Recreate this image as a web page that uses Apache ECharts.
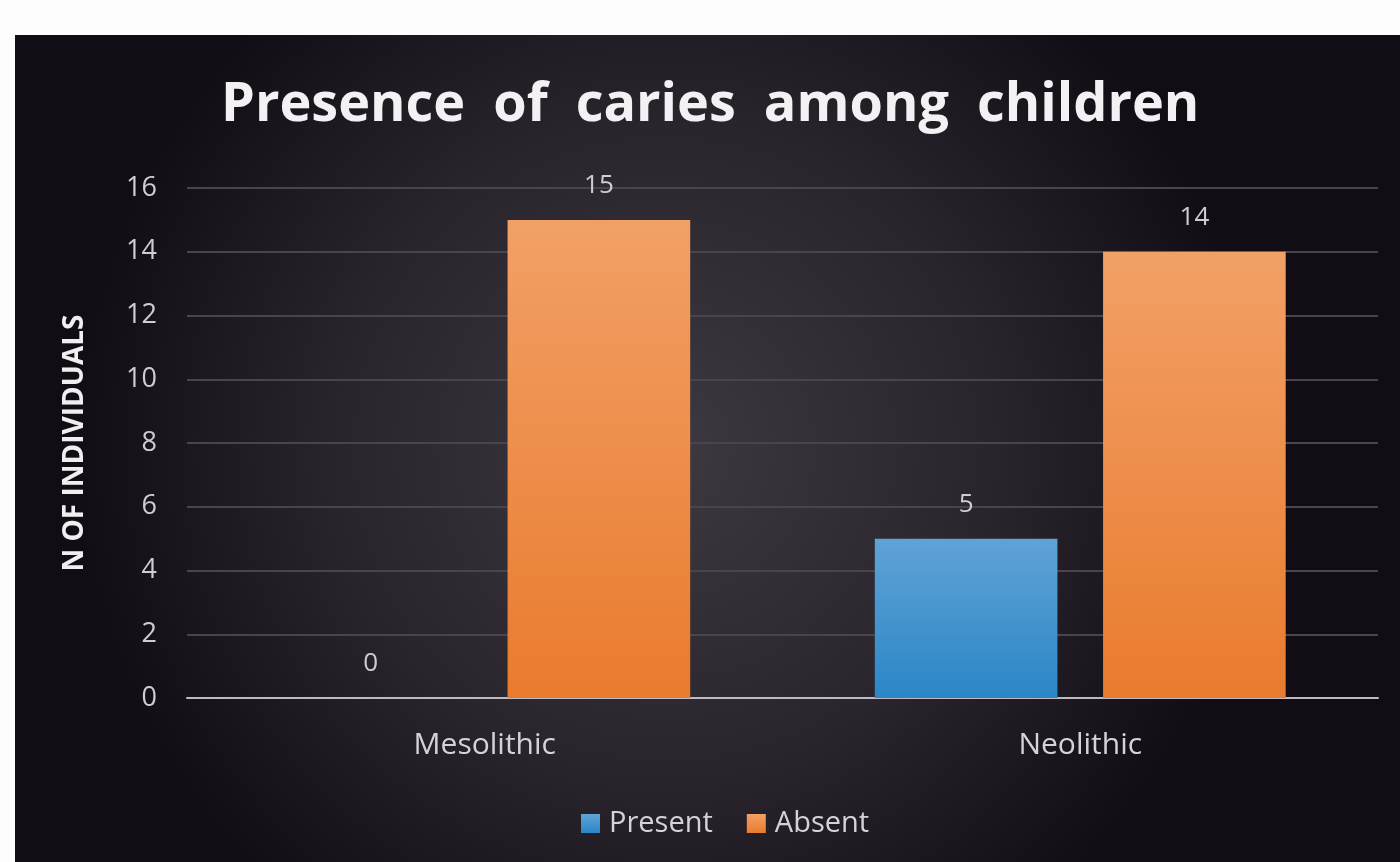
<!DOCTYPE html>
<html>
	<head>
		<meta charset="UTF-8">
		<title>Presence of caries among children</title>
		<style>
			html, body { margin: 0; padding: 0; background: #fdfdfd; }
			#chart { width: 1400px; height: 862px; }
		</style>
	</head>
	<body>
		<div id="chart"></div>
		<script type="text/javascript" src="https://cdn.jsdelivr.net/npm/echarts@6/dist/echarts.min.js"></script>
		<script type="text/javascript">
			// data
			var periods = ['Mesolithic', 'Neolithic'];
			var present = [0, 5];
			var absent = [15, 14];
			var yTicks = [0, 2, 4, 6, 8, 10, 12, 14, 16];

			var chart = echarts.init(document.getElementById('chart'));

			var labelStyle = {
				show: true,
				position: 'top',
				distance: 21,
				color: '#d0ccd2',
				fontFamily: 'Open Sans',
				fontSize: 26
			};

			var option = {
				backgroundColor: '#fdfdfd',
				graphic: [{
					type: 'rect',
					z: -10,
					silent: true,
					shape: { x: 15, y: 35, width: 1385, height: 827 },
					style: {
						fill: {
							type: 'radial',
							x: 0.47, y: 0.5, r: 0.72,
							colorStops: [
								{ offset: 0, color: '#3d3941' },
								{ offset: 0.55, color: '#2a252d' },
								{ offset: 1, color: '#120d15' }
							]
						}
					}
				}],
				title: {
					text: 'Presence  of  caries  among  children',
					left: 216,
					top: 74,
					textStyle: {
						color: '#f3f1f3',
						fontFamily: 'Open Sans',
						fontWeight: 'bold',
						fontSize: 54
					}
				},
				legend: {
					bottom: 19,
					left: 576,
					itemWidth: 19,
					itemHeight: 19,
					itemGap: 34,
					icon: 'rect',
					textStyle: {
						color: '#d6d2d8',
						fontFamily: 'Open Sans',
						fontSize: 29,
						padding: [0, 0, 0, 4]
					},
					data: ['Present', 'Absent']
				},
				grid: {
					left: 187,
					right: 22,
					top: 188,
					bottom: 164
				},
				xAxis: {
					type: 'category',
					data: periods,
					axisTick: { show: false },
					axisLine: { lineStyle: { color: '#bfb9c2', width: 2 } },
					axisLabel: {
						color: '#d6d2d8',
						fontFamily: 'Open Sans',
						fontSize: 30,
						margin: 32
					}
				},
				yAxis: {
					type: 'value',
					min: yTicks[0],
					max: yTicks[yTicks.length - 1],
					interval: 2,
					name: 'N OF INDIVIDUALS',
					nameLocation: 'middle',
					nameGap: 98,
					nameTextStyle: {
						color: '#f0eef0',
						fontFamily: 'Open Sans',
						fontWeight: 'bold',
						fontSize: 28
					},
					axisLine: { show: false },
					axisTick: { show: false },
					axisLabel: {
						color: '#d0ccd2',
						fontFamily: 'Open Sans',
						fontSize: 27,
						margin: 30
					},
					splitLine: { lineStyle: { color: '#4a4450', width: 2 } }
				},
				series: [
					{
						name: 'Present',
						type: 'bar',
						data: present,
						barGap: '25%',
						barCategoryGap: '31%',
						label: labelStyle,
						itemStyle: {
							color: {
								type: 'linear', x: 0, y: 0, x2: 0, y2: 1,
								colorStops: [
									{ offset: 0, color: '#5fa3d6' },
									{ offset: 1, color: '#2b86c6' }
								]
							}
						}
					},
					{
						name: 'Absent',
						type: 'bar',
						data: absent,
						label: labelStyle,
						itemStyle: {
							color: {
								type: 'linear', x: 0, y: 0, x2: 0, y2: 1,
								colorStops: [
									{ offset: 0, color: '#f2a066' },
									{ offset: 1, color: '#e97b2e' }
								]
							}
						}
					}
				]
			};

			chart.setOption(option);
		</script>
	</body>
</html>
